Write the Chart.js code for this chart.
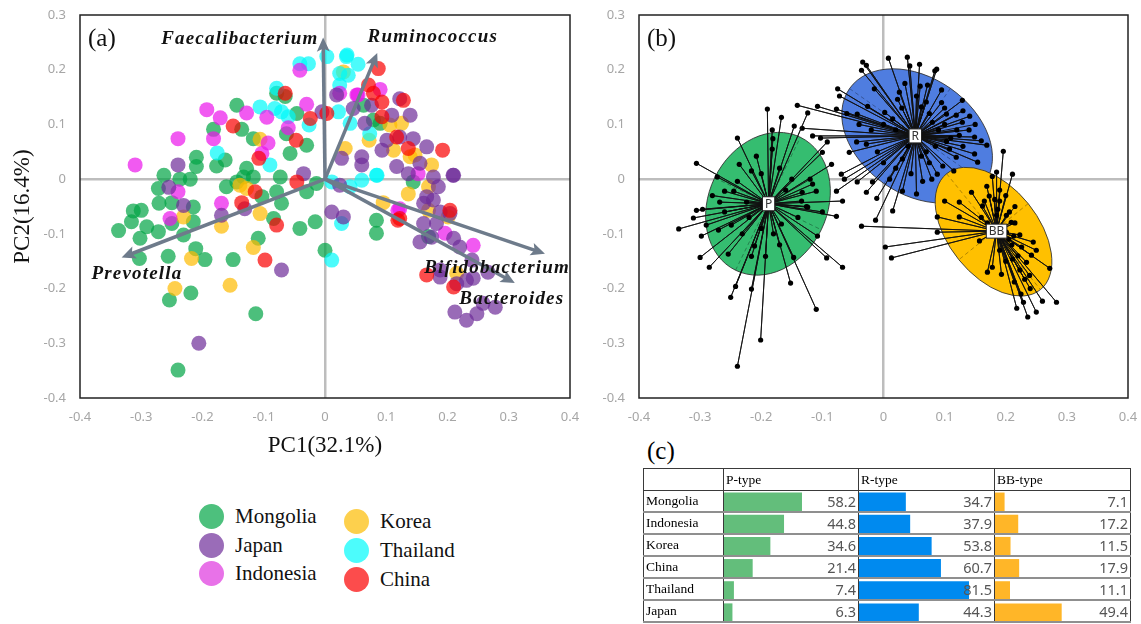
<!DOCTYPE html>
<html>
<head>
<meta charset="utf-8">
<script src="https://cdn.jsdelivr.net/npm/chart.js@4.4.1/dist/chart.umd.min.js"></script>
<style>
  body { margin: 0; width: 1141px; height: 624px; background: #fff; position: relative; overflow: hidden; font-family: "Liberation Serif", serif; }
  canvas { position: absolute; }
  .leg { position: absolute; font-family: "Liberation Serif", serif; font-size: 21px; color: #111; line-height: 24px; }
  .leg span.dot { position: absolute; width: 25px; height: 25px; border-radius: 50%; left: -36px; top: 0px; }
  #panelC { position: absolute; left: 647px; top: 437px; font-size: 25px; }
  #tbl { position: absolute; left: 643px; top: 468px; border-collapse: collapse; table-layout: fixed; z-index: 2; font-family: "Liberation Serif", serif; }
  #tbl td { border-left: 1px solid #3a3a3a; border-right: 1px solid #3a3a3a; border-bottom: 2px solid #8f8f8f; padding: 0 2px; height: 20px; font-size: 13.5px; overflow: hidden; white-space: nowrap; }
  #tbl tr.head td { height: 21px; border-top: 1px solid #3a3a3a; border-bottom: 1px solid #3a3a3a; }
  #tbl td.num { text-align: right; font-family: "Noto Sans", sans-serif; font-size: 14.5px; color: #555; }
  .bars { z-index: 1; }
</style>
</head>
<body>
<canvas id="chartA" width="590" height="460" style="left:0;top:0"></canvas>
<canvas id="chartB" width="551" height="430" style="left:590px;top:0"></canvas>
<div id="legend"></div>
<div id="panelC">(c)</div>
<table id="tbl"></table>
<canvas id="barP" class="bars" width="134" height="133" style="left:724px;top:491px"></canvas>
<canvas id="barR" class="bars" width="135" height="133" style="left:859px;top:491px"></canvas>
<canvas id="barBB" class="bars" width="135" height="133" style="left:995px;top:491px"></canvas>
<script>
// ---------- panel (a) data: PCA scores by country ----------
const mongolia = [[-0.144,0.135],[-0.182,0.091],[-0.136,0.091],[-0.117,0.074],[-0.21,0.04],[-0.21,0.023],[-0.177,0.024],[-0.163,0.035],[-0.263,0.007],[-0.237,0],[-0.22,0],[-0.272,-0.017],[-0.25,-0.043],[-0.271,-0.044],[-0.313,-0.058],[-0.3,-0.057],[-0.316,-0.078],[-0.337,-0.094],[-0.291,-0.087],[-0.272,-0.096],[-0.302,-0.108],[-0.25,-0.081],[-0.231,-0.102],[-0.215,-0.078],[-0.215,-0.051],[-0.256,-0.141],[-0.303,-0.145],[-0.196,-0.147],[-0.211,-0.127],[-0.15,-0.147],[-0.219,-0.208],[-0.254,-0.221],[-0.113,-0.246],[-0.109,-0.108],[-0.161,-0.014],[-0.144,-0.005],[-0.128,0.02],[-0.117,0.004],[-0.133,0.004],[-0.103,-0.032],[-0.079,-0.023],[-0.071,-0.044],[-0.073,0.004],[-0.063,0.083],[-0.057,0.047],[-0.03,0.062],[-0.046,0.12],[-0.065,0.151],[-0.079,0.157],[-0.03,-0.023],[-0.014,-0.008],[-0.041,-0.09],[-0.016,-0.078],[0,-0.13],[-0.084,-0.072],[0.084,-0.075],[0.084,-0.099],[0.063,0.135],[0.079,0.108],[0.09,0.102],[0.144,-0.005],[0.169,-0.105],[-0.24,-0.349]];
const japan = [[-0.24,0.026],[-0.231,-0.048],[-0.169,-0.066],[-0.131,-0.054],[-0.035,0.01],[-0.071,-0.166],[0.011,-0.06],[0.03,-0.069],[0.024,-0.011],[-0.005,0.123],[0.019,0.154],[0.046,0.129],[0.065,0.102],[0.076,0.135],[0.122,0.147],[0.109,0.117],[0.139,0.117],[0.06,0.041],[0.06,0.026],[0.027,0.038],[0.093,0.053],[0.101,0.071],[0.122,0.077],[0.144,0.074],[0.166,0.059],[0.117,0.023],[0.136,0.01],[0.155,0.029],[0.177,0.004],[0.21,0.007],[0.185,-0.014],[0.166,-0.032],[0.177,-0.038],[0.161,-0.044],[0.188,-0.06],[0.204,-0.063],[0.161,-0.081],[0.182,-0.081],[0.155,-0.115],[0.21,-0.108],[0.22,-0.124],[0.188,-0.166],[0.215,-0.191],[0.231,-0.185],[0.212,-0.243],[0.231,-0.258],[0.248,-0.246],[0.174,-0.106],[0.24,-0.148],[0.188,-0.179],[0.242,-0.181],[0.258,-0.227],[0.278,-0.234],[0.266,-0.17],[0.209,0.007],[-0.206,-0.3],[-0.255,-0.015]];
const indonesia = [[-0.31,0.026],[-0.24,0.074],[-0.193,0.127],[-0.182,0.074],[-0.171,0.112],[-0.128,0.121],[-0.095,0.113],[-0.093,0.066],[-0.103,0.047],[-0.06,0.094],[-0.03,0.137],[-0.041,0.199],[-0.24,-0.023],[-0.253,-0.072],[-0.169,-0.044],[0.09,0.164],[0.052,0.154],[0.024,0.157],[0.122,-0.054],[0.152,0.01],[0.196,-0.099],[0.242,-0.121],[0.119,-0.057],[0.054,0.154]];
const korea = [[-0.106,0.073],[-0.139,-0.011],[-0.128,-0.017],[-0.231,-0.069],[-0.169,-0.086],[-0.106,-0.063],[-0.117,-0.125],[-0.218,-0.145],[-0.155,-0.194],[-0.245,-0.2],[0.033,0.056],[0.072,0.071],[0.106,0.099],[0.125,0.102],[0.112,0.053],[0.139,0.041],[0.147,0.044],[0.174,0.026],[0.169,-0.014],[0.136,-0.027],[0.095,-0.043],[0.169,-0.057],[0.201,-0.069],[0.215,-0.172],[0.03,0.196]];
const thailand = [[-0.041,0.211],[-0.027,0.211],[0.003,0.224],[0.035,0.224],[0.054,0.21],[0.038,0.19],[0.024,0.193],[0.024,0.172],[0.022,0.123],[-0.079,0.166],[-0.082,0.129],[-0.071,0.123],[-0.06,0.114],[-0.106,0.132],[-0.026,0.099],[-0.176,0.048],[-0.09,0.026],[0.041,0.102],[0.073,0.083],[0.06,-0.002],[0.084,0.007],[0.011,-0.005],[0.041,-0.014],[0.027,-0.081],[0.011,-0.148],[0.036,0.227],[0.085,0.007]];
const china = [[-0.15,0.097],[-0.065,0.157],[-0.047,0.071],[-0.024,0.111],[0.003,0.12],[-0.108,0.038],[-0.136,-0.043],[-0.114,-0.023],[-0.079,-0.084],[-0.098,-0.148],[-0.046,-0.005],[0.087,0.202],[0.071,0.172],[0.079,0.157],[0.093,0.141],[0.128,0.144],[0.093,0.114],[0.117,0.077],[0.136,0.056],[0.192,0.053],[0.122,-0.072],[0.204,-0.057],[0.166,-0.175],[0.21,-0.197],[0.119,-0.075]];

// loading vectors (genus arrows)
const genera = ['Faecalibacterium', 'Ruminococcus', 'Prevotella', 'Bifidobacterium', 'Bacteroides'];
const loadings = [[-0.003,0.255],[0.084,0.227],[-0.329,-0.142],[0.356,-0.135],[0.307,-0.188]];

// ---------- panel (b) data: enterotype clusters ----------
const clusterNames = ['P', 'R', 'BB'];
const centroids = [[-0.188,-0.045],[0.052,0.079],[0.185,-0.095]];
// ellipse: semi-axes (in PC1 units) and tilt in degrees
const ellipseAxes = [[0.121,0.097,-64],[0.135,0.095,35],[0.122,0.073,51]];
const ellipseCentres = [[-0.189,-0.045],[0.055,0.079],[0.18,-0.096]];
const pSamples = [[-0.19,0.128],[-0.167,0.113],[-0.146,0.097],[-0.124,0.121],[-0.182,0.09],[-0.181,0.074],[-0.1,0.049],[-0.085,0.027],[-0.092,0.068],[-0.306,0.029],[-0.239,0.075],[-0.208,0.042],[-0.182,0.055],[-0.236,0.027],[-0.216,0.015],[-0.272,0.004],[-0.26,-0.022],[-0.245,-0.022],[-0.239,-0.004],[-0.224,-0.042],[-0.268,-0.042],[-0.306,-0.057],[-0.296,-0.055],[-0.116,-0.009],[-0.133,-0.024],[-0.11,-0.022],[-0.134,-0.04],[-0.067,-0.04],[-0.124,-0.051],[-0.077,-0.068],[-0.311,-0.071],[-0.335,-0.091],[-0.298,-0.104],[-0.29,-0.084],[-0.27,-0.093],[-0.249,-0.084],[-0.3,-0.143],[-0.285,-0.161],[-0.254,-0.137],[-0.231,-0.1],[-0.216,-0.141],[-0.211,-0.122],[-0.193,-0.141],[-0.25,-0.216],[-0.242,-0.196],[-0.216,-0.201],[-0.201,-0.294],[-0.239,-0.342],[-0.167,-0.082],[-0.152,-0.19],[-0.147,-0.143],[-0.11,-0.238],[-0.108,-0.104],[-0.093,-0.144],[-0.067,-0.161],[-0.1,-0.06],[-0.126,-0.05],[-0.2,0.01],[-0.17,0.02],[-0.15,0.0],[-0.16,-0.02],[-0.22,-0.07],[-0.18,-0.1],[-0.14,-0.07],[-0.26,-0.06],[-0.28,-0.03],[-0.2,-0.09],[-0.17,-0.12],[-0.12,0.0]];
const rSamples = [[-0.034,0.214],[-0.028,0.208],[-0.036,0.199],[0.008,0.221],[0.039,0.223],[0.043,0.207],[0.059,0.21],[0.087,0.201],[0.084,0.198],[0.095,0.163],[0.072,0.172],[0.129,0.144],[0.141,0.115],[0.119,0.117],[0.129,0.104],[0.124,0.08],[0.149,0.077],[0.169,0.062],[0.149,0.046],[0.154,0.031],[0.108,0.055],[0.119,0.04],[0.103,0.069],[0.097,0.024],[0.088,0.009],[0.079,0],[0.064,-0.004],[0.062,0.042],[0.054,-0.027],[0.031,-0.022],[0.031,0.037],[0.015,-0.058],[-0.011,-0.035],[-0.028,-0.024],[-0.018,-0.005],[0.01,0],[0.023,0.146],[0.026,0.159],[0.002,0.122],[-0.043,0.119],[-0.044,0.068],[-0.028,0.064],[-0.026,0.133],[0.054,0.152],[0.07,0.141],[0.062,0.132],[0.08,0.104],[0.103,0.119],[-0.075,0.165],[-0.072,0.152],[-0.108,0.133],[-0.141,0.135],[-0.133,0.093],[-0.116,0.079],[-0.103,0.075],[-0.077,0.128],[-0.056,0.049],[-0.069,0.009],[-0.064,0],[-0.043,-0.005],[-0.077,-0.022],[-0.013,-0.075],[0.0,0.1],[0.02,0.09],[0.09,0.09],[0.1,0.1],[0.04,0.06],[0.07,0.05],[-0.01,0.05],[0.1,0.13],[0.12,0.09],[0.13,0.06],[0.085,0.06],[0.11,0.075],[0.095,0.14],[0.075,0.12],[0.03,0.13],[0.015,0.11],[-0.02,0.09],[-0.04,0.1],[-0.06,0.12],[0.0,0.03],[0.02,0.02],[0.045,0.01],[0.075,0.03],[0.14,0.09],[0.16,0.07],[0.115,0.015],[0.035,0.175],[0.06,0.17],[-0.015,0.165],[0.13,0.125],[0.15,0.1]];
const bbSamples = [[0.196,0.051],[0.211,0.009],[-0.036,-0.086],[0.003,-0.124],[0.013,-0.144],[0.088,-0.069],[0.088,-0.097],[0.124,-0.069],[0.157,-0.113],[0.17,-0.17],[0.178,-0.161],[0.193,-0.174],[0.214,-0.188],[0.218,-0.236],[0.229,-0.225],[0.236,-0.252],[0.25,-0.243],[0.26,-0.223],[0.283,-0.225],[0.272,-0.163],[0.239,-0.176],[0.231,-0.183],[0.242,-0.139],[0.234,-0.152],[0.223,-0.166],[0.211,-0.146],[0.226,-0.124],[0.245,-0.115],[0.213,-0.104],[0.223,-0.102],[0.201,-0.097],[0.209,-0.079],[0.206,-0.06],[0.201,-0.066],[0.185,-0.066],[0.187,-0.055],[0.165,-0.04],[0.178,0.005],[0.169,-0.013],[0.185,0.013],[0.144,-0.024],[0.173,-0.031],[0.182,-0.037],[0.124,-0.042],[0.1,-0.04],[0.162,-0.049],[0.19,-0.02],[0.2,-0.03],[0.215,-0.08],[0.17,-0.08],[0.21,-0.12],[0.22,-0.14],[0.2,-0.15],[0.19,-0.13],[0.24,-0.2],[0.225,-0.21],[0.205,-0.11],[0.25,-0.13],[0.16,-0.07],[0.19,-0.04],[0.215,-0.05]];

// ---------- panel (c) data: enterotype share (%) ----------
const tableCountries = ['Mongolia', 'Indonesia', 'Korea', 'China', 'Thailand', 'Japan'];
const pType = [58.2, 44.8, 34.6, 21.4, 7.4, 6.3];
const rType = [34.7, 37.9, 53.8, 60.7, 81.5, 44.3];
const bbType = [7.1, 17.2, 11.5, 17.9, 11.1, 49.4];

// ---------- styles ----------
const countryStyle = [
  { name: 'Mongolia', data: mongolia, color: 'rgba(0,164,69,0.7)', legend: '#4dc07d', order: 6 },
  { name: 'Japan', data: japan, color: 'rgba(110,44,153,0.7)', legend: '#9a6cb8', order: 2 },
  { name: 'Indonesia', data: indonesia, color: 'rgba(235,20,235,0.7)', legend: '#e872e8', order: 3 },
  { name: 'Korea', data: korea, color: 'rgba(253,187,0,0.7)', legend: '#fdd04d', order: 5 },
  { name: 'Thailand', data: thailand, color: 'rgba(0,250,250,0.7)', legend: '#4cfcfc', order: 4 },
  { name: 'China', data: china, color: 'rgba(250,0,0,0.7)', legend: '#fc4c4c', order: 1 }
];
const arrowColor = '#6e7b8b';
const labelSpots = [[-0.139,0.256],[0.176,0.26],[-0.307,-0.174],[0.281,-0.163],[0.305,-0.219]];
const ellipseFill = ['#35bd70', '#4f7de0', '#ffc000'];
const tickColor = '#a6a6a6';
const tickFont = { family: 'Noto Sans', size: 13 };

const fmt = v => { const r = Math.round(v * 10) / 10; return r === 0 ? '0' : String(r); };
const zeroGrid = c => (c.tick && Math.abs(c.tick.value) < 1e-9) ? '#bdbdbd' : 'rgba(0,0,0,0)';

function axes(yWidth, xHeight, xTitle, yTitle) {
  return {
    x: {
      type: 'linear', min: -0.4, max: 0.4,
      ticks: { stepSize: 0.1, callback: fmt, color: tickColor, font: tickFont, padding: 11 },
      grid: { color: zeroGrid, lineWidth: 2.5, drawTicks: false },
      border: { display: false },
      title: { display: !!xTitle, text: xTitle, color: '#111', font: { family: 'Liberation Serif', size: 23 }, padding: { top: 0, bottom: 0 } },
      afterFit: s => { s.height = xHeight; s.paddingLeft = 0; s.paddingRight = 0; }
    },
    y: {
      type: 'linear', min: -0.4, max: 0.3,
      ticks: { stepSize: 0.1, callback: fmt, color: tickColor, font: tickFont, padding: 14 },
      grid: { color: zeroGrid, lineWidth: 2.5, drawTicks: false },
      border: { display: false },
      title: { display: !!yTitle, text: yTitle, color: '#111', font: { family: 'Liberation Serif', size: 23 }, padding: { top: 9, bottom: 0 } },
      afterFit: s => { s.width = yWidth; s.paddingTop = 0; s.paddingBottom = 0; }
    }
  };
}

const framePlugin = {
  id: 'frame',
  afterDatasetsDraw(chart, args, opts) {
    const { ctx, chartArea: a } = chart;
    ctx.save();
    ctx.strokeStyle = '#222';
    ctx.lineWidth = 1.5;
    ctx.strokeRect(a.left, a.top, a.right - a.left, a.bottom - a.top);
    ctx.font = '25px "Liberation Serif"';
    ctx.fillStyle = '#111';
    ctx.textBaseline = 'middle';
    ctx.fillText(opts.tag, a.left + 8, a.top + 24);
    ctx.restore();
  }
};

// ---------- chart (a) ----------
const arrowPlugin = {
  id: 'arrows',
  afterDatasetsDraw(chart) {
    const { ctx, scales: { x, y } } = chart;
    ctx.save();
    loadings.forEach((l, i) => {
      const x0 = x.getPixelForValue(0), y0 = y.getPixelForValue(0);
      const x1 = x.getPixelForValue(l[0]), y1 = y.getPixelForValue(l[1]);
      const ang = Math.atan2(y1 - y0, x1 - x0);
      ctx.save();
      ctx.translate(x1, y1);
      ctx.rotate(ang);
      ctx.beginPath();
      ctx.moveTo(2, 0);
      ctx.lineTo(-12, -6.5);
      ctx.lineTo(-9, 0);
      ctx.lineTo(-12, 6.5);
      ctx.closePath();
      ctx.fillStyle = arrowColor;
      ctx.fill();
      ctx.restore();
    });
    ctx.font = 'italic bold 19px "Liberation Serif"';
    ctx.letterSpacing = '1.2px';
    ctx.fillStyle = '#111';
    ctx.textAlign = 'center';
    ctx.textBaseline = 'middle';
    genera.forEach((g, i) => {
      ctx.fillText(g, x.getPixelForValue(labelSpots[i][0]), y.getPixelForValue(labelSpots[i][1]));
    });
    ctx.restore();
  }
};

const datasetsA = countryStyle.map(c => ({
  label: c.name,
  data: c.data.map(p => ({ x: p[0], y: p[1] })),
  backgroundColor: c.color,
  pointRadius: 7.5,
  pointBorderWidth: 0,
  order: c.order
}));
loadings.forEach((l, i) => {
  datasetsA.push({
    type: 'line',
    label: genera[i],
    data: [{ x: 0, y: 0 }, { x: l[0] * 0.97, y: l[1] * 0.97 }],
    borderColor: arrowColor,
    borderWidth: 3.5,
    pointRadius: 0,
    order: 0
  });
});

new Chart(document.getElementById('chartA'), {
  type: 'scatter',
  data: { datasets: datasetsA },
  options: {
    responsive: false,
    animation: false,
    layout: { padding: { top: 15, right: 20, left: 0, bottom: 0 } },
    plugins: { legend: { display: false }, tooltip: { enabled: false }, frame: { tag: '(a)' } },
    scales: axes(80, 62, 'PC1(32.1%)', 'PC2(16.4%)')
  },
  plugins: [arrowPlugin, framePlugin]
});

// ---------- chart (b) ----------
const ellipsePlugin = {
  id: 'ellipses',
  beforeDatasetsDraw(chart) {
    const { ctx, scales: { x, y } } = chart;
    const ppu = Math.abs(x.getPixelForValue(1) - x.getPixelForValue(0));
    ctx.save();
    ellipseAxes.forEach((e, i) => {
      const cx = x.getPixelForValue(ellipseCentres[i][0]);
      const cy = y.getPixelForValue(ellipseCentres[i][1]);
      ctx.save();
      ctx.translate(cx, cy);
      ctx.rotate(e[2] * Math.PI / 180);
      ctx.beginPath();
      ctx.ellipse(0, 0, e[0] * ppu, e[1] * ppu, 0, 0, Math.PI * 2);
      ctx.fillStyle = ellipseFill[i];
      ctx.fill();
      ctx.strokeStyle = '#333';
      ctx.lineWidth = 0.8;
      ctx.stroke();
      ctx.setLineDash([4, 3]);
      ctx.strokeStyle = 'rgba(0,0,0,0.35)';
      ctx.beginPath();
      ctx.moveTo(-e[0] * ppu, 0); ctx.lineTo(e[0] * ppu, 0);
      ctx.moveTo(0, -e[1] * ppu); ctx.lineTo(0, e[1] * ppu);
      ctx.stroke();
      ctx.restore();
    });
    ctx.restore();
  },
  afterDatasetsDraw(chart) {
    const { ctx, scales: { x, y } } = chart;
    ctx.save();
    ctx.font = '12px "Noto Sans"';
    ctx.textAlign = 'center';
    ctx.textBaseline = 'middle';
    clusterNames.forEach((n, i) => {
      const px = x.getPixelForValue(centroids[i][0]);
      const py = y.getPixelForValue(centroids[i][1]);
      const w = ctx.measureText(n).width + 5, h = 14;
      ctx.fillStyle = '#fff';
      ctx.fillRect(px - w / 2, py - h / 2, w, h);
      ctx.strokeStyle = '#222';
      ctx.lineWidth = 1;
      ctx.strokeRect(px - w / 2, py - h / 2, w, h);
      ctx.fillStyle = '#333';
      ctx.fillText(n, px, py + 0.5);
    });
    ctx.restore();
  }
};

function spokes(centre, pts) {
  const out = [];
  pts.forEach(p => { out.push({ x: centre[0], y: centre[1] }, { x: p[0], y: p[1] }); });
  return out;
}

const datasetsB = [pSamples, rSamples, bbSamples].map((pts, i) => ({
  type: 'line',
  label: clusterNames[i],
  data: spokes(centroids[i], pts),
  borderColor: '#111',
  borderWidth: 0.9,
  tension: 0,
  pointRadius: c => (c.dataIndex % 2 ? 2.6 : 0),
  pointBackgroundColor: '#000',
  pointBorderWidth: 0
}));

new Chart(document.getElementById('chartB'), {
  type: 'scatter',
  data: { datasets: datasetsB },
  options: {
    responsive: false,
    animation: false,
    layout: { padding: { top: 15, right: 13, left: 0, bottom: 0 } },
    plugins: { legend: { display: false }, tooltip: { enabled: false }, frame: { tag: '(b)' } },
    scales: axes(49, 32, '', '')
  },
  plugins: [ellipsePlugin, framePlugin]
});

// ---------- legend under (a) ----------
const legendSpots = [[235, 504], [235, 533], [235, 561], [380, 509], [380, 538], [380, 567]];
const legendOrder = ['Mongolia', 'Japan', 'Indonesia', 'Korea', 'Thailand', 'China'];
const legendBox = document.getElementById('legend');
legendOrder.forEach((n, i) => {
  const c = countryStyle.find(s => s.name === n);
  const d = document.createElement('div');
  d.className = 'leg';
  d.style.left = legendSpots[i][0] + 'px';
  d.style.top = legendSpots[i][1] + 'px';
  d.innerHTML = '<span class="dot" style="background:' + c.legend + '"></span>' + n;
  legendBox.appendChild(d);
});

// ---------- table (c) ----------
const tbl = document.getElementById('tbl');
const colW = [80, 135, 136, 136];
let html = '<colgroup>' + colW.map(w => '<col style="width:' + w + 'px">').join('') + '</colgroup>';
html += '<tr class="head"><td></td><td>P-type</td><td>R-type</td><td>BB-type</td></tr>';
tableCountries.forEach((c, i) => {
  html += '<tr><td>' + c + '</td><td class="num">' + pType[i].toFixed(1) + '</td><td class="num">' +
    rType[i].toFixed(1) + '</td><td class="num">' + bbType[i].toFixed(1) + '</td></tr>';
});
tbl.innerHTML = html;

function barColumn(id, values, color) {
  new Chart(document.getElementById(id), {
    type: 'bar',
    data: { labels: tableCountries, datasets: [{ data: values, backgroundColor: color, barPercentage: 0.86, categoryPercentage: 1 }] },
    options: {
      indexAxis: 'y',
      responsive: false,
      animation: false,
      layout: { padding: 0 },
      plugins: { legend: { display: false }, tooltip: { enabled: false } },
      scales: {
        x: { display: false, min: 0, max: 100 },
        y: { display: false }
      }
    }
  });
}
barColumn('barP', pType, '#63be7b');
barColumn('barR', rType, '#008aef');
barColumn('barBB', bbType, '#ffb628');
</script>
</body>
</html>
